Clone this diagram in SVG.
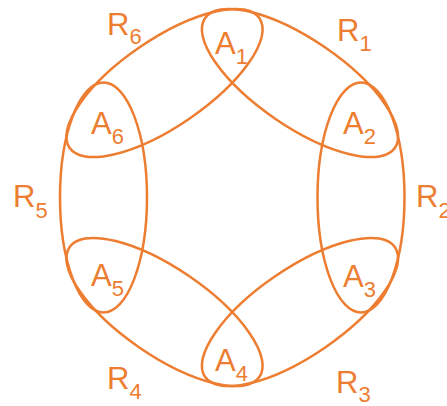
<svg xmlns="http://www.w3.org/2000/svg" width="447" height="406" viewBox="0 0 447 406">
  <style>
    .reg { fill: none; stroke: #ED7D31; stroke-width: 2.5; }
    .lbl { fill: #ED7D31; font-family: "Liberation Sans", Arial, sans-serif; font-size: 31px; }
    .sub { font-size: 22px; }
  </style>
  <rect width="447" height="406" fill="#ffffff"/>
  <g id="regions">
    <g id="R1"><ellipse class="reg" cx="0" cy="0" rx="115" ry="43.5" transform="translate(300 83) rotate(34.3)"/></g>
    <g id="R2"><ellipse class="reg" cx="361" cy="197.5" rx="43.5" ry="115"/></g>
    <g id="R3"><ellipse class="reg" cx="0" cy="0" rx="115" ry="43.5" transform="translate(300 312) rotate(-34.3)"/></g>
    <g id="R4"><ellipse class="reg" cx="0" cy="0" rx="115" ry="43.5" transform="translate(164.5 312) rotate(34.3)"/></g>
    <g id="R5"><ellipse class="reg" cx="103.5" cy="197.5" rx="43.5" ry="115"/></g>
    <g id="R6"><ellipse class="reg" cx="0" cy="0" rx="115" ry="43.5" transform="translate(164.5 83) rotate(-34.3)"/></g>
  </g>
  <g id="region-labels">
    <g id="label-R1"><text class="lbl" x="337" y="41">R<tspan class="sub" dy="10">1</tspan></text></g>
    <g id="label-R2"><text class="lbl" x="416" y="207">R<tspan class="sub" dy="11">2</tspan></text></g>
    <g id="label-R3"><text class="lbl" x="336" y="393">R<tspan class="sub" dy="9">3</tspan></text></g>
    <g id="label-R4"><text class="lbl" x="107" y="389">R<tspan class="sub" dy="10">4</tspan></text></g>
    <g id="label-R5"><text class="lbl" x="13" y="207">R<tspan class="sub" dy="11">5</tspan></text></g>
    <g id="label-R6"><text class="lbl" x="107" y="35">R<tspan class="sub" dy="9">6</tspan></text></g>
  </g>
  <g id="nodes">
    <g id="A1"><text class="lbl" x="215" y="54">A<tspan class="sub" dy="10">1</tspan></text></g>
    <g id="A2"><text class="lbl" x="343" y="134">A<tspan class="sub" dy="10">2</tspan></text></g>
    <g id="A3"><text class="lbl" x="343" y="287">A<tspan class="sub" dy="10">3</tspan></text></g>
    <g id="A4"><text class="lbl" x="215" y="371">A<tspan class="sub" dy="10">4</tspan></text></g>
    <g id="A5"><text class="lbl" x="91" y="286">A<tspan class="sub" dy="10">5</tspan></text></g>
    <g id="A6"><text class="lbl" x="91" y="134">A<tspan class="sub" dy="10">6</tspan></text></g>
  </g>
</svg>
